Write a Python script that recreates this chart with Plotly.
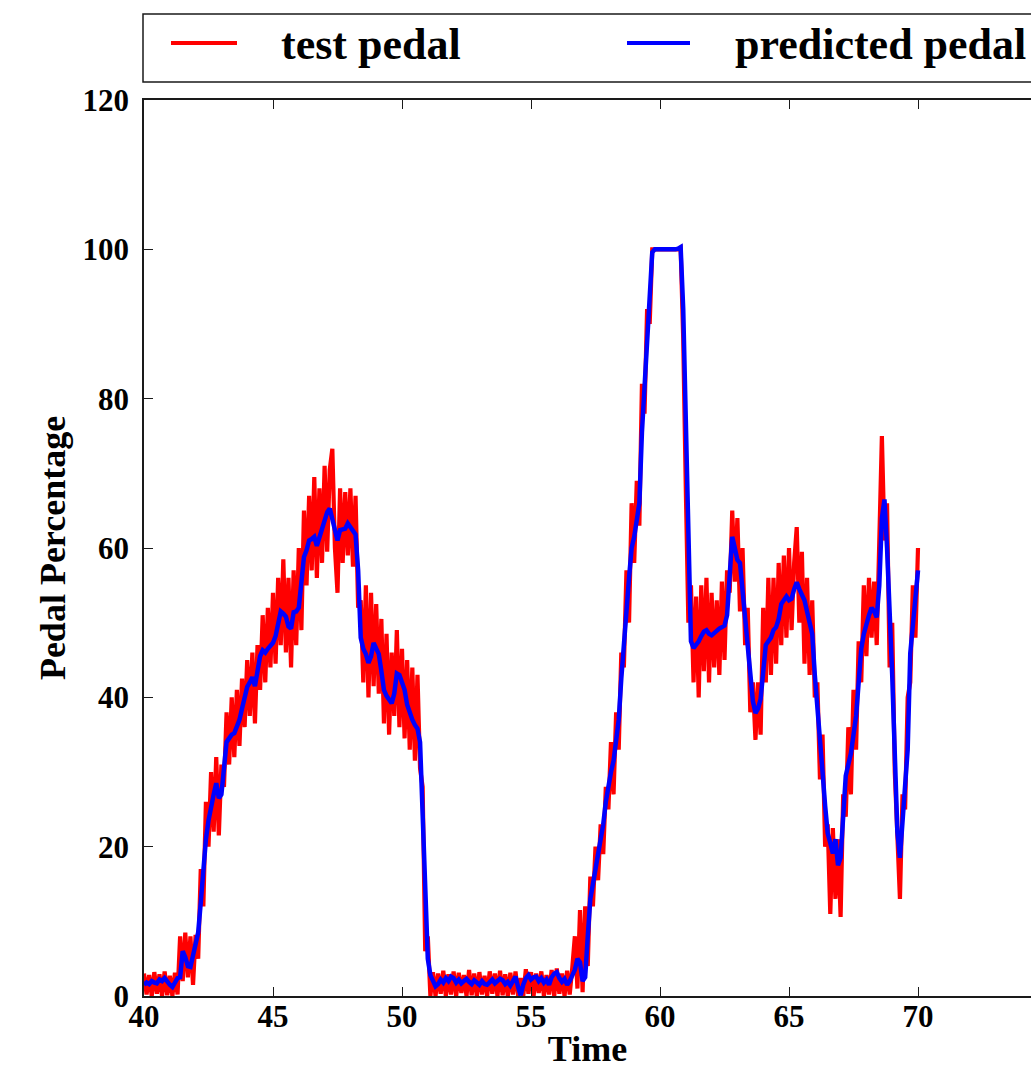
import numpy as np
import plotly.graph_objects as go

# ---------------- data (sampled every 0.1 s from 40.0 to 70.0) ----------------
t_start = 40.0
t_step = 0.1

test_pedal = [
    # 40.x
    3.0, 0.2, 2.8, 0.0, 3.2, 0.3, 2.9, 0.0, 3.3, 0.1,
    # 41.x
    2.7, 0.0, 3.1, 0.2, 8.0, 2.0, 8.5, 2.5, 8.0, 1.5,
    # 42.x
    8.2, 5.0, 17.0, 12.0, 26.0, 20.0, 30.0, 22.0, 32.0, 21.5,
    # 43.x
    31.0, 28.0, 38.0, 31.0, 40.0, 32.0, 41.0, 33.5, 42.5, 36.0,
    # 44.x
    45.0, 37.5, 46.0, 36.5, 47.0, 41.0, 51.0, 42.0, 52.0, 44.0,
    # 45.x
    54.0, 44.5, 56.0, 47.0, 58.5, 46.0, 56.0, 44.0, 57.0, 47.0,
    # 46.x
    60.0, 49.0, 65.0, 55.0, 67.0, 57.0, 69.5, 56.0, 68.0, 58.0,
    # 47.x
    71.0, 59.5, 70.5, 73.3, 60.0, 54.0, 68.0, 58.0, 67.5, 59.0,
    # 48.x
    68.0, 57.5, 67.0, 52.0, 53.0, 42.0, 55.0, 40.0, 54.0, 41.5,
    # 49.x
    52.5, 40.5, 50.5, 36.5, 48.5, 35.0, 46.0, 37.5, 49.0, 36.0,
    # 50.x
    46.5, 34.5, 45.0, 33.0, 44.0, 31.5, 43.0, 30.5, 28.0, 6.0,
    # 51.x
    8.0, 0.0, 3.2, 0.0, 3.0, 0.3, 3.4, 0.0, 2.9, 0.2,
    # 52.x
    3.3, 0.0, 3.1, 0.4, 2.8, 0.0, 3.5, 0.1, 3.0, 0.0,
    # 53.x
    3.2, 0.2, 2.7, 0.0, 3.3, 0.3, 3.0, 0.0, 3.4, 0.1,
    # 54.x
    2.9, 0.0, 3.1, 0.2, 3.3, 0.0, 2.4, 0.0, 3.6, 0.3,
    # 55.x
    3.2, 0.0, 3.0, 0.4, 3.3, 0.0, 2.8, 0.2, 3.5, 0.0,
    # 56.x
    3.7, 0.3, 3.0, 0.0, 3.4, 0.2, 3.8, 8.0, 1.0, 11.5,
    # 57.x
    0.5, 12.0, 4.0, 16.0, 12.0, 20.0, 15.5, 23.0, 19.0, 28.0,
    # 58.x
    25.0, 34.0, 27.0, 38.0, 33.0, 46.0, 44.0, 57.0, 50.0, 66.0,
    # 59.x
    58.0, 69.0, 63.0, 82.0, 78.0, 92.0, 90.0, 100.0, 100.0, 100.0,
    # 60.x
    100.0, 100.0, 100.0, 100.0, 100.0, 100.0, 100.0, 100.0, 100.2, 88.0,
    # 61.x
    68.0, 50.0, 55.0, 42.0, 53.5, 40.0, 55.0, 43.5, 56.0, 42.0,
    # 62.x
    54.0, 44.0, 53.0, 43.0, 55.5, 45.0, 57.0, 54.0, 65.0, 55.5,
    # 63.x
    64.0, 51.5, 60.0, 47.0, 52.0, 38.0, 42.0, 34.3, 42.0, 35.0,
    # 64.x
    52.0, 42.0, 56.0, 43.0, 56.0, 44.5, 58.0, 47.0, 59.0, 48.0,
    # 65.x
    60.0, 49.0, 58.0, 62.8, 50.0, 59.5, 44.5, 56.0, 43.0, 53.0,
    # 66.x
    40.0, 42.0, 29.0, 35.0, 20.0, 23.0, 11.0, 22.5, 13.0, 21.0,
    # 67.x
    10.6, 27.0, 24.0, 36.0, 27.0, 41.0, 33.0, 47.5, 42.0, 55.0,
    # 68.x
    45.5, 56.0, 48.0, 55.5, 47.0, 64.0, 75.0, 61.0, 66.0, 44.0,
    # 69.x
    50.0, 30.0, 22.0, 13.0, 27.0, 25.0, 40.0, 42.0, 55.0, 48.0,
    # 70.0
    60.0,
]

predicted_pedal = [
    # 40.x
    1.5, 1.8, 1.6, 2.0, 1.8, 1.7, 2.2, 2.0, 2.4, 1.8,
    # 41.x
    1.5, 1.2, 1.9, 2.4, 2.5, 6.0, 5.2, 4.0, 3.9, 5.5,
    # 42.x
    6.5, 8.5, 12.5, 17.0, 21.0, 23.5, 25.5, 27.0, 28.5, 26.5,
    # 43.x
    27.0, 31.0, 34.0, 34.5, 35.0, 35.2, 36.0, 37.0, 38.5, 40.0,
    # 44.x
    41.4, 42.0, 42.7, 41.5, 43.5, 45.5, 46.3, 46.0, 46.5, 47.0,
    # 45.x
    47.3, 48.2, 50.0, 51.5, 51.2, 50.8, 49.5, 49.2, 51.4, 51.5,
    # 46.x
    52.0, 56.0, 58.8, 59.7, 61.0, 61.2, 61.5, 60.3, 61.5, 62.4,
    # 47.x
    63.5, 64.8, 65.3, 63.8, 62.0, 61.0, 62.4, 62.5, 62.6, 63.3,
    # 48.x
    62.8, 62.4, 61.8, 57.0, 48.0, 46.5, 45.8, 44.6, 45.5, 47.3,
    # 49.x
    46.5, 45.8, 43.5, 41.0, 40.2, 39.8, 39.2, 40.5, 43.2, 43.0,
    # 50.x
    42.0, 41.0, 39.0, 37.9, 37.0, 36.3, 35.8, 34.0, 25.0, 14.0,
    # 51.x
    5.0, 2.8, 2.0, 1.3, 1.6, 2.2, 1.8, 2.4, 2.0, 2.6,
    # 52.x
    2.4, 1.8, 2.2, 1.7, 2.0, 2.3, 1.9, 1.6, 2.1, 1.8,
    # 53.x
    1.5, 2.0, 1.6, 1.5, 1.9, 2.2, 1.7, 2.0, 2.3, 2.1,
    # 54.x
    1.6, 1.9, 1.4, 2.0, 2.6, 1.2, 0.1, 1.5, 2.4, 2.8,
    # 55.x
    2.2, 2.5, 2.6, 2.0, 2.4, 1.8, 2.2, 1.5, 2.5, 3.0,
    # 56.x
    3.2, 2.4, 1.9, 2.3, 1.5, 2.0, 2.6, 3.5, 5.0, 4.5,
    # 57.x
    2.0, 2.5, 8.0, 13.0, 15.0, 17.0, 19.0, 20.5, 23.0, 26.0,
    # 58.x
    28.5, 30.0, 31.5, 34.0, 37.0, 42.5, 48.0, 51.5, 56.0, 60.0,
    # 59.x
    61.5, 63.5, 66.0, 75.5, 82.0, 87.0, 94.0, 99.6, 100.0, 100.0,
    # 60.x
    100.0, 100.0, 99.9, 100.0, 100.0, 100.0, 100.0, 100.1, 100.3, 92.0,
    # 61.x
    78.0, 60.0, 47.5, 46.6, 47.0, 47.5, 48.2, 48.8, 49.0, 48.5,
    # 62.x
    48.3, 48.6, 49.0, 49.2, 49.4, 49.6, 51.0, 57.0, 61.5, 60.0,
    # 63.x
    58.4, 58.0, 54.0, 50.5, 46.5, 43.0, 39.5, 37.9, 38.5, 39.8,
    # 64.x
    44.0, 47.0, 47.5, 48.0, 49.0, 49.4, 50.5, 52.5, 53.0, 53.5,
    # 65.x
    53.0, 53.2, 54.5, 55.4, 54.5, 53.8, 53.0, 51.5, 50.0, 48.5,
    # 66.x
    43.0, 38.0, 34.7, 30.0, 25.5, 21.8, 20.5, 19.1, 21.0, 17.5,
    # 67.x
    18.5, 24.0, 29.5, 31.0, 32.5, 35.0, 37.5, 42.0, 46.5, 48.5,
    # 68.x
    50.0, 51.0, 52.0, 51.5, 50.7, 55.0, 64.0, 66.5, 60.0, 52.6,
    # 69.x
    43.0, 32.5, 22.0, 18.5, 23.0, 28.0, 33.0, 45.9, 49.5, 53.0,
    # 70.0
    57.0,
]

series_names = ["test pedal", "predicted pedal"]
x_ticks = [40, 45, 50, 55, 60, 65, 70, 75]
y_ticks = [0, 20, 40, 60, 80, 100, 120]

time = np.round(t_start + t_step * np.arange(len(test_pedal)), 1)

# ---------------- figure ----------------
W, H = 1031, 1069
L, R, T, B = 144, 0, 100, 73
plot_w = W - L - R
plot_h = H - T - B

FONT = "Liberation Serif"
RED = "#ff0000"
BLUE = "#0000ff"
AX = "#1a1a1a"


def xp(px):
    return (px - L) / plot_w


def yp(py):
    return (H - B - py) / plot_h


fig = go.Figure()
fig.add_trace(go.Scatter(x=time, y=test_pedal, mode="lines", name=series_names[0],
                         line=dict(color=RED, width=4.2), showlegend=False))
fig.add_trace(go.Scatter(x=time, y=predicted_pedal, mode="lines", name=series_names[1],
                         line=dict(color=BLUE, width=4.5), showlegend=False))

axis_common = dict(
    showline=True, linecolor=AX, linewidth=1.5,
    ticks="inside", ticklen=9, tickwidth=1.2, tickcolor=AX,
    showgrid=False, zeroline=False, automargin=False,
    tickfont=dict(family=FONT, size=31, color="black", weight="bold"),
)

fig.update_layout(
    width=W, height=H,
    margin=dict(l=L, r=R, t=T, b=B),
    paper_bgcolor="white", plot_bgcolor="white",
    showlegend=False,
    xaxis=dict(range=[40, 40 + plot_w / 25.8], tickvals=x_ticks,
               ticktext=[str(v) for v in x_ticks], mirror="ticks",
               ticklabelstandoff=-8,
               title=dict(text="Time", standoff=18,
                          font=dict(family=FONT, size=36, color="black", weight="bold")),
               **axis_common),
    yaxis=dict(range=[0, 120], tickvals=y_ticks,
               ticktext=[str(v) for v in y_ticks], mirror=False,
               ticklabelstandoff=7,
               title=dict(text="Pedal Percentage", standoff=6,
                          font=dict(family=FONT, size=36, color="black", weight="bold")),
               **axis_common),
)

# ---------------- legend box (drawn in paper coordinates) ----------------
fig.add_shape(type="rect", xref="paper", yref="paper",
              x0=xp(143), x1=xp(1045), y0=yp(82), y1=yp(14),
              line=dict(color=AX, width=1.5), fillcolor="white", layer="above")
fig.add_shape(type="line", xref="paper", yref="paper",
              x0=xp(171), x1=xp(237), y0=yp(43), y1=yp(43),
              line=dict(color=RED, width=4))
fig.add_shape(type="line", xref="paper", yref="paper",
              x0=xp(627), x1=xp(690), y0=yp(43), y1=yp(43),
              line=dict(color=BLUE, width=4))
fig.add_annotation(xref="paper", yref="paper", x=xp(279), y=yp(45),
                   xanchor="left", yanchor="middle", showarrow=False,
                   text=series_names[0],
                   font=dict(family=FONT, size=44, color="black", weight="bold"))
fig.add_annotation(xref="paper", yref="paper", x=xp(733), y=yp(45),
                   xanchor="left", yanchor="middle", showarrow=False,
                   text=series_names[1],
                   font=dict(family=FONT, size=44, color="black", weight="bold"))

fig.write_html("out.html",
               config={"displayModeBar": False},
               post_script="document.body.style.margin='0px';document.body.style.overflow='hidden';")
